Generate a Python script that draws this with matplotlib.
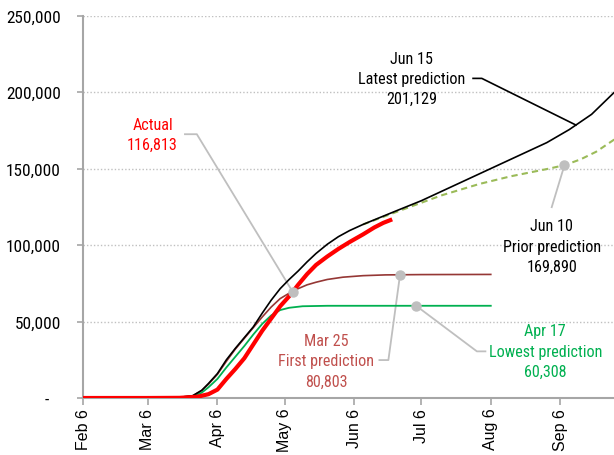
import pandas as pd
import matplotlib
matplotlib.use("Agg")
import matplotlib.pyplot as plt
from matplotlib import font_manager as fm
from matplotlib.ticker import FuncFormatter

# cumulative deaths, 2020
latest_dates = ["2020-02-06", "2020-03-06", "2020-03-16", "2020-03-21", "2020-03-26", "2020-03-30",
                "2020-04-02", "2020-04-06", "2020-04-10", "2020-04-14", "2020-04-18", "2020-04-22",
                "2020-04-26", "2020-04-30", "2020-05-04", "2020-05-08", "2020-05-12", "2020-05-16",
                "2020-05-20", "2020-05-25", "2020-05-30", "2020-06-04", "2020-06-10", "2020-06-15",
                "2020-06-20", "2020-06-25", "2020-07-06", "2020-07-20", "2020-08-03", "2020-08-17",
                "2020-08-31", "2020-09-10", "2020-09-20", "2020-10-01"]
latest_vals = [0, 0, 150, 600, 1500, 5000, 9500, 16000, 25000, 32500, 39500, 46500,
               55500, 64000, 71500, 77500, 83000, 89000, 94500, 100500, 105500, 109500, 113500, 116500,
               119500, 122500, 129000, 138500, 148000, 157500, 167000, 175500, 185500, 201129]

actual_dates = ["2020-02-06", "2020-03-06", "2020-03-20", "2020-03-28", "2020-04-02", "2020-04-06",
                "2020-04-10", "2020-04-14", "2020-04-18", "2020-04-22", "2020-04-26", "2020-04-30",
                "2020-05-04", "2020-05-08", "2020-05-12", "2020-05-16", "2020-05-20", "2020-05-25",
                "2020-05-30", "2020-06-04", "2020-06-10", "2020-06-15", "2020-06-19", "2020-06-23"]
actual_vals = [0, 0, 100, 800, 2500, 5500, 12500, 19000, 26000, 35000, 44000, 52000,
               60000, 66500, 74000, 81000, 87000, 92500, 97500, 102000, 107000, 111500, 114500, 116813]

first_dates = ["2020-02-06", "2020-03-06", "2020-03-16", "2020-03-21", "2020-03-26", "2020-03-30",
               "2020-04-02", "2020-04-06", "2020-04-10", "2020-04-14", "2020-04-18", "2020-04-22",
               "2020-04-26", "2020-04-30", "2020-05-04", "2020-05-08", "2020-05-12", "2020-05-16",
               "2020-05-20", "2020-05-25", "2020-06-01", "2020-06-10", "2020-06-20", "2020-07-06",
               "2020-08-06"]
first_vals = [0, 0, 150, 600, 1500, 5000, 9000, 15500, 24000, 32000, 39000, 46000,
              53000, 59500, 65000, 68500, 71500, 74000, 75700, 77500, 79000, 80000, 80500, 80700,
              80803]

lowest_dates = ["2020-02-06", "2020-03-06", "2020-03-20", "2020-03-26", "2020-03-30", "2020-04-02",
                "2020-04-06", "2020-04-10", "2020-04-14", "2020-04-18", "2020-04-22", "2020-04-26",
                "2020-04-30", "2020-05-04", "2020-05-08", "2020-05-14", "2020-05-25", "2020-08-06"]
lowest_vals = [0, 0, 100, 1000, 3500, 7000, 12500, 20000, 27000, 34000, 41500, 48500,
               54000, 57500, 59000, 60000, 60300, 60308]

prior_dates = ["2020-06-10", "2020-06-20", "2020-07-01", "2020-07-15", "2020-08-01", "2020-08-15",
               "2020-09-01", "2020-09-08", "2020-09-15", "2020-09-22", "2020-10-01"]
prior_vals = [113500, 119000, 125000, 132500, 140000, 145000, 150000, 152300, 156000, 161000, 169890]

tick_dates = ["2020-02-06", "2020-03-06", "2020-04-06", "2020-05-06", "2020-06-06",
              "2020-07-06", "2020-08-06", "2020-09-06"]

start = pd.Timestamp("2020-02-06")


def day(n):
    return start + pd.Timedelta(days=n)


# look for a condensed / narrow face, otherwise Liberation Sans
def pick_narrow():
    good = []
    for f in fm.fontManager.ttflist:
        n = f.name + " " + f.fname
        if f.style != "normal" or f.weight not in (400, "normal", "regular"):
            continue
        if ("Narrow" in n or "Condensed" in n or str(f.stretch) in ("condensed", "semi-condensed")) \
                and "Extra" not in n and "Semi" not in n:
            good.append(f)
    for key in ["Liberation Sans Narrow", "Roboto Condensed", "Noto Sans", "Open Sans"]:
        for f in good:
            if key in f.name:
                return fm.FontProperties(fname=f.fname)
    if good:
        return fm.FontProperties(fname=good[0].fname)
    return fm.FontProperties(family="Liberation Sans")


NARROW = pick_narrow()
GRAY = "#a6a6a6"
LEAD = "#bfbfbf"

fig = plt.figure(figsize=(6.14, 4.56), dpi=100)
ax = fig.add_axes([0.1352, 0.125, 0.8648, 0.8384])
renderer = fig.canvas.get_renderer()


def measure(s, size, ls=1.0):
    t = fig.text(0, 0, s, fontproperties=NARROW, fontsize=size, linespacing=ls)
    bb = t.get_window_extent(renderer)
    t.remove()
    return bb


# font size so the labels keep roughly the reference widths
sizes = [10 * w / measure(s, 10).width for s, w in
         [("Latest prediction", 98), ("First prediction", 89), ("Lowest prediction", 105),
          ("Prior prediction", 91)]]
ann_size = min(sum(sizes) / len(sizes) * 1.08, 13.5)
pitch = (measure("A\nB\nC", ann_size).height - measure("A", ann_size).height) / 2
ann_ls = 21.7 / pitch
tick_size = min(10 * 54 / measure("250,000", 10).width, 13.5)

ax.plot(pd.to_datetime(prior_dates), prior_vals, color="#9bbb59", lw=1.5, ls=(0, (3, 2)), zorder=3)
ax.plot(pd.to_datetime(first_dates), first_vals, color="#953735", lw=1.2, zorder=3)
ax.plot(pd.to_datetime(lowest_dates), lowest_vals, color="#00b050", lw=1.3, zorder=3)
ax.plot(pd.to_datetime(latest_dates), latest_vals, color="black", lw=1.2, zorder=4)
ax.plot(pd.to_datetime(actual_dates), actual_vals, color="#ff0000", lw=3, zorder=5,
        solid_capstyle="butt")

ax.set_xlim(start, pd.Timestamp("2020-09-30"))
ax.set_ylim(0, 250000)

ax.set_yticks(range(0, 250001, 50000))
ax.yaxis.set_major_formatter(FuncFormatter(lambda v, p: "-   " if v == 0 else f"{v:,.0f}"))
ax.set_xticks(pd.to_datetime(tick_dates))
ax.set_xticklabels([f"{d:%b} {d.day}" for d in pd.to_datetime(tick_dates)],
                   rotation=90, fontsize=11.5, family="Liberation Sans")
for lab in ax.get_yticklabels():
    lab.set_fontproperties(NARROW)
    lab.set_fontsize(tick_size)
ax.tick_params(axis="x", length=5, width=1.2, color=GRAY, pad=2)
ax.tick_params(axis="y", length=4, width=1.2, color=GRAY, pad=12)

ax.grid(axis="y", color="#c0c0c0", ls=(0, (1, 1.5)), lw=1)
ax.set_axisbelow(True)
for s in ["top", "right"]:
    ax.spines[s].set_visible(False)
for s in ["left", "bottom"]:
    ax.spines[s].set_color(GRAY)
    ax.spines[s].set_linewidth(1.5)

# annotations
txt = dict(fontproperties=NARROW, fontsize=ann_size, ha="center", va="center",
           linespacing=ann_ls, zorder=6)

ax.text(day(146.7), 209000, "Jun 15\nLatest prediction\n201,129", color="black", **txt)
ax.plot([day(174.1), day(178.0), pd.Timestamp("2020-09-13")], [209000, 209000, 178500],
        color="black", lw=1.2, zorder=6)

ax.text(day(31.0), 172500, "Actual\n116,813", color="#ff0000", **txt)
ax.plot([day(45.5), day(50.8), day(93.6)], [172500, 172500, 69400], color=LEAD, lw=1.3, zorder=2)
ax.plot([day(93.6)], [69400], "o", color=LEAD, ms=6.5, zorder=7)

ax.text(day(108.6), 24500, "Mar 25\nFirst prediction\n80,803", color="#c0504d", **txt)
ax.plot([day(132.3), day(136.3), day(141.5)], [24800, 24800, 80600], color=LEAD, lw=1.3, zorder=2)
ax.plot([day(141.5)], [80600], "o", color=LEAD, ms=6.5, zorder=7)

ax.text(day(206.3), 30700, "Apr 17\nLowest prediction\n60,308", color="#00b050", **txt)
ax.plot([day(179.6), day(175.8), day(148.7)], [30500, 30500, 60300], color=LEAD, lw=1.3, zorder=2)
ax.plot([day(148.7)], [60300], "o", color=LEAD, ms=6.5, zorder=7)

ax.text(day(209.2), 99300, "Jun 10\nPrior prediction\n169,890", color="black", **txt)
ax.plot([day(209.2), day(214.9)], [124800, 152300], color=LEAD, lw=1.3, zorder=2)
ax.plot([day(214.9)], [152300], "o", color=LEAD, ms=6.5, zorder=7)

fig.savefig("out.png", dpi=100)
